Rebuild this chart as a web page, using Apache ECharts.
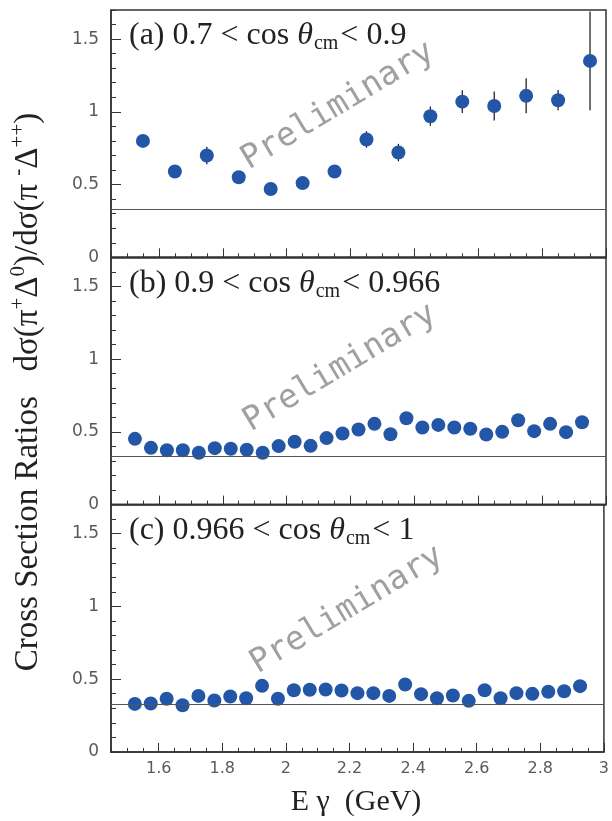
<!DOCTYPE html>
<html>
<head>
<meta charset="utf-8">
<script src="https://cdn.jsdelivr.net/npm/echarts@6/dist/echarts.min.js"></script>
<style>
  html, body { margin: 0; padding: 0; background: #fff; }
  #chart { width: 612px; height: 821px; }
</style>
</head>
<body>
<div id="chart"></div>
<script>
// Photon energy bins (GeV) and measured cross-section ratios with errors
const energyA = [1.55, 1.65, 1.75, 1.85, 1.95, 2.05, 2.15, 2.25, 2.35, 2.45, 2.55, 2.65, 2.75, 2.85, 2.95];
const ratioA  = [0.80, 0.59, 0.70, 0.55, 0.47, 0.51, 0.59, 0.81, 0.72, 0.97, 1.07, 1.04, 1.11, 1.08, 1.35];
const errorA  = [0.03, 0.03, 0.06, 0.03, 0.03, 0.03, 0.03, 0.057, 0.06, 0.066, 0.078, 0.10, 0.12, 0.07, 0.34];

const energyBC = [1.525, 1.575, 1.625, 1.675, 1.725, 1.775, 1.825, 1.875, 1.925, 1.975,
                  2.025, 2.075, 2.125, 2.175, 2.225, 2.275, 2.325, 2.375, 2.425, 2.475,
                  2.525, 2.575, 2.625, 2.675, 2.725, 2.775, 2.825, 2.875, 2.925];
const ratioB = [0.452, 0.390, 0.374, 0.374, 0.356, 0.388, 0.384, 0.377, 0.356, 0.402,
                0.432, 0.404, 0.457, 0.489, 0.516, 0.555, 0.484, 0.594, 0.530, 0.548,
                0.530, 0.521, 0.482, 0.500, 0.580, 0.505, 0.555, 0.498, 0.566];
const errorB = [0.02, 0.02, 0.02, 0.02, 0.02, 0.02, 0.02, 0.02, 0.02, 0.02,
                0.02, 0.02, 0.02, 0.02, 0.02, 0.02, 0.02, 0.02, 0.02, 0.02,
                0.025, 0.03, 0.025, 0.025, 0.025, 0.025, 0.025, 0.025, 0.025];
const ratioC = [0.330, 0.333, 0.365, 0.321, 0.385, 0.353, 0.381, 0.369, 0.454, 0.365,
                0.424, 0.427, 0.429, 0.422, 0.404, 0.404, 0.385, 0.463, 0.397, 0.369,
                0.388, 0.351, 0.424, 0.369, 0.404, 0.399, 0.413, 0.417, 0.452];
const errorC = [0.02, 0.02, 0.02, 0.02, 0.02, 0.02, 0.02, 0.02, 0.02, 0.02,
                0.02, 0.02, 0.02, 0.02, 0.02, 0.02, 0.02, 0.02, 0.02, 0.02,
                0.02, 0.02, 0.02, 0.02, 0.02, 0.02, 0.02, 0.02, 0.02];

// Reference level drawn across each panel
const refLevel = 1 / 3;

// Axis tick labels
const xTickValues = [1.6, 1.8, 2, 2.2, 2.4, 2.6, 2.8, 3];
const yTickValues = [0, 0.5, 1, 1.5];

// Panel captions: [label, low edge, high edge]
const panelLabels = [['(a)', '0.7', '0.9'], ['(b)', '0.9', '0.966'], ['(c)', '0.966', '1']];

const panels = [
  { x: energyA, y: ratioA, err: errorA },
  { x: energyBC, y: ratioB, err: errorB },
  { x: energyBC, y: ratioC, err: errorC }
];

const GRID_LEFT = 111, GRID_RIGHT = 6, GRID_TOP = 10, PANEL_H = 247.3;
const FRAME = '#333';
const BLUE = '#2356a6';
const SERIF = '"Liberation Serif", "DejaVu Serif", serif';
const SANS = '"DejaVu Sans", sans-serif';
const TICK_TEXT = '#5a5a5a';

const chart = echarts.init(document.getElementById('chart'), null, { renderer: 'canvas' });

const grids = [], xAxes = [], yAxes = [], series = [], graphics = [];

panels.forEach((p, i) => {
  const top = GRID_TOP + i * PANEL_H;
  grids.push({
    left: GRID_LEFT, right: GRID_RIGHT, top: top, height: PANEL_H,
    show: true, borderColor: FRAME, borderWidth: 1.5, backgroundColor: 'transparent'
  });
  // minor x ticks every 0.05
  xAxes.push({
    gridIndex: i, type: 'value', position: 'bottom', min: 1.45, max: 3, interval: 0.05,
    axisLine: { show: false },
    axisTick: { show: true, inside: true, length: 4, lineStyle: { color: FRAME, width: 1 } },
    axisLabel: { show: false }, splitLine: { show: false }
  });
  // major x ticks and labels
  xAxes.push({
    gridIndex: i, type: 'value', position: 'bottom', min: 1.45, max: 3,
    axisLine: { show: true, lineStyle: { color: FRAME, width: 1.5 } },
    axisTick: { show: true, inside: true, length: 9, customValues: xTickValues, lineStyle: { color: FRAME, width: 1 } },
    axisLabel: {
      show: i === 2, customValues: xTickValues, margin: 9,
      color: TICK_TEXT, fontFamily: SANS, fontSize: 16,
      formatter: v => String(Math.round(v * 10) / 10)
    },
    splitLine: { show: false }
  });
  // minor y ticks every 0.1
  yAxes.push({
    gridIndex: i, type: 'value', position: 'left', min: 0, max: 1.7, interval: 0.1,
    axisLine: { show: false },
    axisTick: { show: true, inside: true, length: 5, lineStyle: { color: FRAME, width: 1 } },
    axisLabel: { show: false }, splitLine: { show: false }
  });
  // major y ticks and labels
  yAxes.push({
    gridIndex: i, type: 'value', position: 'left', min: 0, max: 1.7,
    axisLine: { show: true, lineStyle: { color: FRAME, width: 1.5 } },
    axisTick: { show: true, inside: true, length: 10, customValues: yTickValues, lineStyle: { color: FRAME, width: 1 } },
    axisLabel: {
      show: true, customValues: yTickValues, margin: 12,
      color: TICK_TEXT, fontFamily: SANS, fontSize: 17,
      formatter: v => String(v)
    },
    splitLine: { show: false }
  });

  const xi = i * 2 + 1, yi = i * 2 + 1;
  const pts = p.x.map((e, k) => [e, p.y[k], p.err[k]]);

  // vertical error bars
  series.push({
    type: 'custom', xAxisIndex: xi, yAxisIndex: yi, silent: true, z: 2,
    data: pts,
    renderItem: (params, api) => {
      const lo = api.coord([api.value(0), api.value(1) - api.value(2)]);
      const hi = api.coord([api.value(0), api.value(1) + api.value(2)]);
      return {
        type: 'line',
        shape: { x1: lo[0], y1: lo[1], x2: hi[0], y2: hi[1] },
        style: { stroke: '#111', lineWidth: 1.2 }
      };
    }
  });
  // data points with the reference level line
  series.push({
    type: 'scatter', xAxisIndex: xi, yAxisIndex: yi, z: 3,
    data: pts.map(d => [d[0], d[1]]),
    symbol: 'circle', symbolSize: 14,
    itemStyle: { color: BLUE, opacity: 1 },
    markLine: {
      silent: true, symbol: ['none', 'none'], animation: false,
      label: { show: false },
      lineStyle: { color: '#555', width: 1.2, type: 'solid' },
      data: [{ yAxis: refLevel }]
    }
  });

  // panel caption
  const [tag, lo, hi] = panelLabels[i];
  graphics.push({
    type: 'text', left: 129, top: top + 10, z: 10,
    style: {
      text: `{n|${tag} ${lo} < cos }{t|θ}{s|cm}{n|< ${hi}}`,
      fill: '#222',
      rich: {
        n: { fontFamily: SERIF, fontSize: 32, fill: '#222', verticalAlign: 'bottom', padding: [0, 0, 2, 0] },
        t: { fontFamily: SERIF, fontSize: 32, fontStyle: 'italic', fill: '#222', verticalAlign: 'bottom', padding: [0, 1, 2, 0] },
        s: { fontFamily: SERIF, fontSize: 20, fill: '#222', verticalAlign: 'bottom', padding: [0, 2, 0, 0] }
      }
    }
  });
  // watermark
  const wm = [[338, 106], [340, 368], [347, 610]][i];
  graphics.push({
    type: 'text', x: wm[0], y: wm[1], rotation: 31 * Math.PI / 180, z: 1,
    style: {
      text: 'Preliminary', fill: '#a0a0a0',
      font: '33px "DejaVu Sans Mono", "Liberation Mono", monospace',
      align: 'center', verticalAlign: 'middle'
    }
  });
});

// vertical axis title
graphics.push({
  type: 'text', x: 26, y: 392, rotation: Math.PI / 2, z: 10,
  style: {
    text: '{n|Cross Section Ratios   dσ(π}{p|+}{n|Δ}{p|0}{n|)/dσ(π }{p|-}{n|Δ}{p|++}{n|)}',
    align: 'center', verticalAlign: 'middle',
    rich: {
      n: { fontFamily: SERIF, fontSize: 33, fill: '#222', verticalAlign: 'bottom', lineHeight: 37 },
      p: { fontFamily: SERIF, fontSize: 21, fill: '#222', verticalAlign: 'top', lineHeight: 37 }
    }
  }
});
// horizontal axis title
graphics.push({
  type: 'text', x: 356, y: 802, z: 10,
  style: {
    text: 'E γ  (GeV)', fill: '#222',
    font: '30px ' + SERIF, align: 'center', verticalAlign: 'middle'
  }
});

chart.setOption({
  animation: false,
  backgroundColor: '#fff',
  grid: grids,
  xAxis: xAxes,
  yAxis: yAxes,
  series: series,
  graphic: graphics
});
</script>
</body>
</html>
